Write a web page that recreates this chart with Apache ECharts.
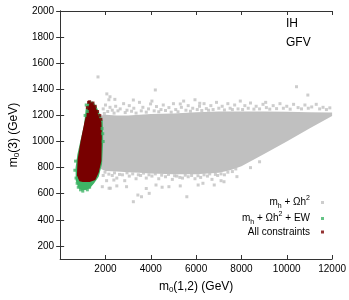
<!DOCTYPE html>
<html>
<head>
<meta charset="utf-8">
<script src="https://cdn.jsdelivr.net/npm/echarts@6/dist/echarts.min.js"></script>
<style>
  html, body { margin: 0; padding: 0; background: #ffffff; }
  #chart { width: 349px; height: 300px; }
</style>
</head>
<body>
<div id="chart"></div>
<script>
// axis ticks
const xTicks = [2000, 4000, 6000, 8000, 10000, 12000];
const yTicks = [200, 400, 600, 800, 1000, 1200, 1400, 1600, 1800, 2000];

// m_h + Ωh^2 : dense part of the cloud (upper / lower edge), then loose points
const grayUpper = [[1800, 1200], [2000, 1205], [2500, 1200], [3000, 1200], [3500, 1205], [4000, 1210],
  [5000, 1215], [6000, 1225], [7000, 1230], [8000, 1230], [9000, 1230], [10000, 1228], [11000, 1225],
  [12000, 1222]];
const grayLower = [[1800, 790], [2000, 775], [2500, 770], [3000, 765], [3500, 760], [4000, 755],
  [5000, 750], [6000, 750], [7000, 760], [7500, 780], [8000, 810], [9000, 905], [10000, 1000],
  [11000, 1100], [12000, 1195]];
const grayPoints = [
  // loose points far from the cloud
  [1670, 1495], [2060, 1365], [2150, 1320], [2200, 1343], [2414, 1323], [3230, 1318], [4200, 1395],
  [6160, 1293], [10430, 1420], [10930, 1356], [9070, 1300], [3990, 1288], [5300, 1288],
  // upper fringe
  [1900, 1250], [1950, 1215], [2000, 1280], [2100, 1230], [2200, 1262], [2300, 1240], [2380, 1218],
  [2450, 1270], [2550, 1235], [2650, 1250], [2800, 1290], [2870, 1222], [2950, 1240], [3050, 1275],
  [3150, 1232], [3250, 1255], [3350, 1218], [3500, 1300], [3580, 1235], [3650, 1262], [3800, 1225],
  [3900, 1250], [4050, 1310], [4150, 1235], [4250, 1268], [4350, 1228], [4450, 1245], [4550, 1280],
  [4650, 1238], [4800, 1260], [4900, 1225], [5000, 1290], [5100, 1245], [5200, 1228], [5350, 1262],
  [5450, 1310], [5550, 1240], [5650, 1275], [5750, 1232], [5850, 1255], [5950, 1320], [6050, 1245],
  [6150, 1270], [6250, 1238], [6350, 1290], [6450, 1252], [6550, 1240], [6650, 1275], [6750, 1245],
  [6900, 1300], [7000, 1255], [7150, 1270], [7250, 1242], [7400, 1290], [7500, 1255], [7600, 1245],
  [7700, 1280], [7850, 1250], [7950, 1310], [8050, 1245], [8150, 1275], [8300, 1255], [8400, 1295],
  [8550, 1248], [8650, 1270], [8800, 1250], [8950, 1285], [9100, 1260], [9250, 1248], [9400, 1275],
  [9550, 1252], [9700, 1290], [9850, 1255], [10000, 1270], [10150, 1248], [10300, 1285], [10500, 1260],
  [10650, 1250], [10800, 1280], [10950, 1255], [11100, 1265], [11300, 1285], [11450, 1250], [11600, 1262],
  [11750, 1245], [11900, 1258],
  // lower fringe
  [1900, 740], [1980, 765], [2050, 700], [2150, 750], [2300, 740], [2400, 760], [2500, 720], [2620, 748],
  [2750, 745], [2850, 700], [2950, 760], [3050, 735], [3200, 752], [3350, 715], [3450, 745], [3550, 740],
  [3680, 758], [3800, 720], [3920, 745], [4050, 735], [4200, 752], [4350, 715], [4480, 742], [4650, 730],
  [4780, 748], [4950, 710], [5050, 738], [5150, 735], [5280, 725], [5400, 720], [5520, 742], [5650, 730],
  [5800, 740], [5950, 715], [6080, 738], [6200, 725], [6350, 745], [6500, 735], [6600, 752], [6700, 710],
  [6850, 748], [6950, 740], [7100, 752], [7250, 745], [7400, 765], [7600, 770], [7750, 790],
  [1860, 654], [2160, 642], [2214, 642], [2370, 705], [2930, 654], [3230, 539], [3430, 590], [3590, 577],
  [3930, 603], [4230, 667], [4800, 654], [5590, 577], [6090, 667], [6800, 667], [7230, 692], [7800, 731],
  [2500, 660], [3800, 640], [4500, 650], [5300, 660], [6300, 680], [7100, 700], [8400, 800], [8800, 845]];

// m_h + Ωh^2 + EW
const greenBlob = [[1000, 625], [1300, 640], [1500, 680], [1700, 730], [1850, 830], [1900, 1000],
  [1880, 1160], [1720, 1220], [1600, 1270], [1450, 1305], [1250, 1310], [1130, 1250], [1050, 1120],
  [900, 1010], [760, 900], [680, 800], [690, 700], [820, 640]];
const greenPoints = [[700, 720], [750, 680], [800, 650], [900, 630], [1000, 620], [1100, 640], [1200, 630],
  [1300, 650], [650, 780], [680, 850], [1150, 1280], [1200, 1230], [1850, 1100], [1880, 1060],
  [1900, 1000], [1100, 1200]];

// All constraints
const redBlob = [[1000, 690], [1300, 690], [1550, 705], [1700, 760], [1820, 850], [1840, 1050],
  [1820, 1150], [1700, 1195], [1600, 1250], [1500, 1280], [1380, 1300], [1270, 1280], [1170, 1220],
  [1060, 1140], [900, 1000], [770, 860], [740, 740], [850, 695]];
const redPoints = [[1250, 1300], [1300, 1305], [1350, 1285], [1450, 1295], [1550, 1270], [1650, 1230],
  [1750, 1200], [1200, 1260], [1800, 1170]];

const GRAY = "#c0c0c0";
const GREEN = "#3fb466";
const RED = "#780000";
const FONT = "Liberation Sans";

const blob = (name, pts, color) => ({
  type: "custom",
  name: name,
  silent: true,
  data: [pts[0]],
  renderItem: (params, api) => ({
    type: "polygon",
    shape: { points: pts.map(p => api.coord(p)) },
    style: { fill: color }
  })
});

const dots = (name, pts, color) => ({
  type: "scatter",
  name: name,
  symbol: "rect",
  symbolSize: 3,
  itemStyle: { color: color },
  data: pts
});

const sub = { fontSize: 7, verticalAlign: "bottom", lineHeight: 8, fontFamily: FONT, color: "#000" };
const sup = { fontSize: 7, verticalAlign: "top", lineHeight: 8, fontFamily: FONT, color: "#000" };
const txt = { fontSize: 10, lineHeight: 15, fontFamily: FONT, color: "#000" };
const nameRich = {
  n: { fontSize: 12, fontFamily: FONT, color: "#000", lineHeight: 14 },
  s: { fontSize: 8, fontFamily: FONT, color: "#000", verticalAlign: "bottom", lineHeight: 9 }
};

const axisLine = { show: true, lineStyle: { color: "#333", width: 1 } };
const plain = v => String(v);

const chart = echarts.init(document.getElementById("chart"));
chart.setOption({
  animation: false,
  grid: { left: 53, right: 16, top: 11, bottom: 41 },
  xAxis: [
    {
      type: "value", min: 0, max: 12000, position: "bottom",
      name: "{n|m}{s|0}{n|(1,2) (GeV)}", nameLocation: "middle", nameGap: 21,
      nameTextStyle: { rich: nameRich },
      axisLine: axisLine, splitLine: { show: false },
      axisTick: { inside: true, length: 4, customValues: xTicks, lineStyle: { color: "#333" } },
      axisLabel: { customValues: xTicks, formatter: plain, fontSize: 10, fontFamily: FONT, color: "#000", margin: 5 }
    },
    {
      type: "value", min: 0, max: 12000, position: "top",
      axisLine: axisLine, splitLine: { show: false },
      axisTick: { inside: true, length: 4, customValues: xTicks, lineStyle: { color: "#333" } },
      axisLabel: { show: false }
    }
  ],
  yAxis: [
    {
      type: "value", min: 100, max: 2000, position: "left",
      name: "{n|m}{s|0}{n|(3) (GeV)}", nameLocation: "middle", nameGap: 34,
      nameTextStyle: { rich: nameRich },
      axisLine: axisLine, splitLine: { show: false },
      axisTick: { show: true, inside: true, length: 4, customValues: yTicks, lineStyle: { color: "#333" } },
      axisLabel: { customValues: yTicks, formatter: plain, fontSize: 10, fontFamily: FONT, color: "#000", margin: 6 }
    },
    {
      type: "value", min: 100, max: 2000, position: "right",
      axisLine: axisLine, splitLine: { show: false },
      axisTick: { show: true, inside: true, length: 4, customValues: yTicks, lineStyle: { color: "#333" } },
      axisLabel: { show: false }
    }
  ],
  legend: {
    data: ["m_h + Ωh^2", "m_h + Ωh^2 + EW", "All constraints"],
    orient: "vertical", align: "right", right: 25, top: 195, padding: 0, itemGap: 1,
    icon: "rect", itemWidth: 3, itemHeight: 3,
    formatter: name => {
      if (name === "m_h + Ωh^2") return "{n|m}{b|h}{n| + Ωh}{p|2}";
      if (name === "m_h + Ωh^2 + EW") return "{n|m}{b|h}{n| + Ωh}{p|2}{n| + EW}";
      return "{n|" + name + "}";
    },
    textStyle: { padding: [0, 6, 0, 0], rich: { n: txt, b: sub, p: sup } }
  },
  graphic: [
    { type: "text", left: 286, top: 18, style: { text: "IH", fontSize: 12, fontFamily: FONT, fill: "#000" } },
    { type: "text", left: 286, top: 37, style: { text: "GFV", fontSize: 12, fontFamily: FONT, fill: "#000" } }
  ],
  series: [
    blob("gray core", grayUpper.concat(grayLower.slice().reverse()), GRAY),
    dots("m_h + Ωh^2", grayPoints, GRAY),
    blob("green core", greenBlob, GREEN),
    dots("m_h + Ωh^2 + EW", greenPoints, GREEN),
    blob("red core", redBlob, RED),
    dots("All constraints", redPoints, RED)
  ]
});
</script>
</body>
</html>
